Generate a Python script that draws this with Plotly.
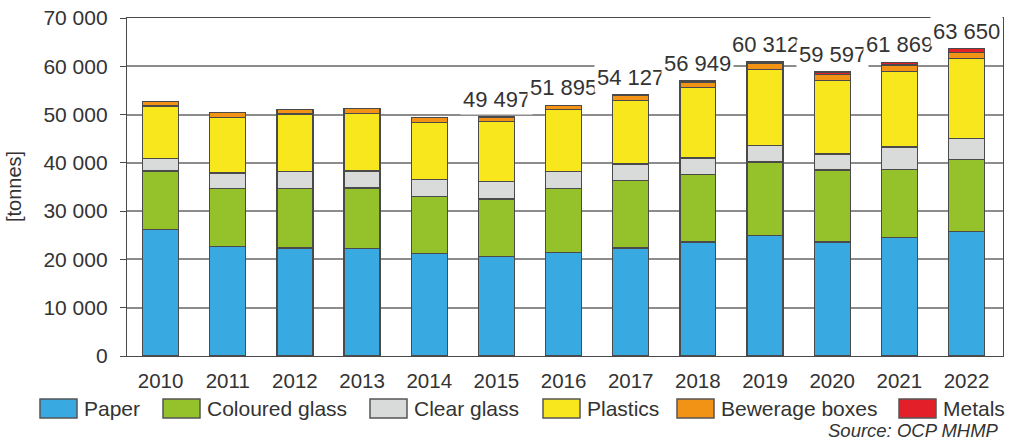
import plotly.graph_objects as go

# ---------------- data ----------------
years = ["2010", "2011", "2012", "2013", "2014", "2015", "2016",
         "2017", "2018", "2019", "2020", "2021", "2022"]
paper = [26170, 22650, 22360, 22300, 21230, 20580, 21410,
         22360, 23600, 25000, 23600, 24510, 25820]
coloured_glass = [12130, 12010, 12360, 12480, 11830, 11920, 13310,
                  13950, 13960, 15180, 14920, 14140, 14840]
clear_glass = [2570, 3230, 3520, 3520, 3460, 3610, 3520,
               3440, 3440, 3460, 3320, 4620, 4350]
plastics = [10890, 11530, 11860, 11950, 11860, 12480, 12770,
            13190, 14570, 15740, 15260, 15700, 16560]
beverage_boxes = [910, 970, 910, 970, 980, 907, 865,
                  1100, 1180, 1300, 1250, 1300, 1350]
metals = [0, 0, 0, 0, 0, 0, 20,
          87, 199, 250, 450, 550, 730]

series_names = ["Paper", "Coloured glass", "Clear glass", "Plastics",
                "Bewerage boxes", "Metals"]
series_values = [paper, coloured_glass, clear_glass, plastics,
                 beverage_boxes, metals]

label_years = ["2015", "2016", "2017", "2018", "2019", "2020", "2021", "2022"]
label_texts = ["49 497", "51 895", "54 127", "56 949", "60 312",
               "59 597", "61 869", "63 650"]

y_ticks = [0, 10000, 20000, 30000, 40000, 50000, 60000, 70000]

# ---------------- styles ----------------
colors = ["#39A9E1", "#95C12B", "#D9DADA", "#F9E71E", "#F39316", "#E3202A"]
FONT = "Liberation Sans, Arial, sans-serif"
TXT = "#333333"
LINE = "#4a4a4a"

# plot area in pixels
W, H = 1012, 440
L, R, T, B = 127, 1003, 18, 356


def px_x(x):
    return (x - L) / (R - L)


def px_y(y):
    return (B - y) / (B - T)


fig = go.Figure()
for name, vals, col in zip(series_names, series_values, colors):
    fig.add_trace(go.Bar(
        x=years, y=vals, name=name,
        marker=dict(color=col, line=dict(color=LINE, width=1.3)),
        showlegend=False,
    ))

# totals per year (for label placement)
totals = [sum(v[i] for v in series_values) for i in range(len(years))]
annotations = []
for yr, txt in zip(label_years, label_texts):
    i = years.index(yr)
    annotations.append(dict(
        x=i, y=totals[i], xref="x", yref="y", text=txt,
        showarrow=False, yanchor="bottom", xanchor="center",
        font=dict(family=FONT, size=22, color=TXT),
        bgcolor="white", borderpad=2, yshift=2,
    ))

# y axis title
annotations.append(dict(
    x=px_x(14), y=0.5, xref="paper", yref="paper", text="[tonnes]",
    textangle=-90, showarrow=False, xanchor="center", yanchor="middle",
    font=dict(family=FONT, size=20, color=TXT),
))

# source
annotations.append(dict(
    x=px_x(1001), y=px_y(431), xref="paper", yref="paper",
    text="<i>Source: OCP MHMP</i>", showarrow=False,
    xanchor="right", yanchor="middle",
    font=dict(family=FONT, size=18.5, color=TXT),
))

# manual legend (large swatches like the reference)
legend_swatch_x = [40, 163, 370, 543, 677, 899]
sw_w, sw_top, sw_bot = 37, 399, 418
shapes = []
for name, col, sx in zip(series_names, colors, legend_swatch_x):
    shapes.append(dict(
        type="rect", xref="paper", yref="paper",
        x0=px_x(sx), x1=px_x(sx + sw_w), y0=px_y(sw_bot), y1=px_y(sw_top),
        fillcolor=col, line=dict(color="#555555", width=1.5),
    ))
    annotations.append(dict(
        x=px_x(sx + sw_w + 5), y=px_y((sw_top + sw_bot) / 2),
        xref="paper", yref="paper", text=name, showarrow=False,
        xanchor="left", yanchor="middle",
        font=dict(family=FONT, size=21, color=TXT),
    ))

fig.update_layout(
    width=W, height=H,
    margin=dict(l=L, r=W - R, t=T, b=H - B, pad=0, autoexpand=False),
    paper_bgcolor="white", plot_bgcolor="white",
    barmode="stack", bargap=0.465,
    separators=", ",
    font=dict(family=FONT, color=TXT),
    annotations=annotations, shapes=shapes,
    showlegend=False,
)
fig.update_xaxes(
    type="category", automargin=False,
    showline=True, linecolor=LINE, linewidth=1.3, mirror=True,
    ticks="", tickfont=dict(family=FONT, size=20.5, color=TXT),
    ticklabelstandoff=6, showgrid=False,
)
fig.update_yaxes(
    automargin=False,
    range=[0, 70000], tickvals=y_ticks, tickformat=",d",
    showline=True, linecolor=LINE, linewidth=1.3, mirror=True,
    ticks="outside", ticklen=6, tickcolor=LINE, tickwidth=1.2,
    tickfont=dict(family=FONT, size=21, color=TXT),
    ticklabelstandoff=8,
    showgrid=True, gridcolor="#8c8c8c", gridwidth=1.5,
    zeroline=False,
)

fig.write_html(
    "out.html",
    config={"displayModeBar": False},
    post_script="document.body.style.margin='0px';"
                "document.body.style.overflow='hidden';",
)
